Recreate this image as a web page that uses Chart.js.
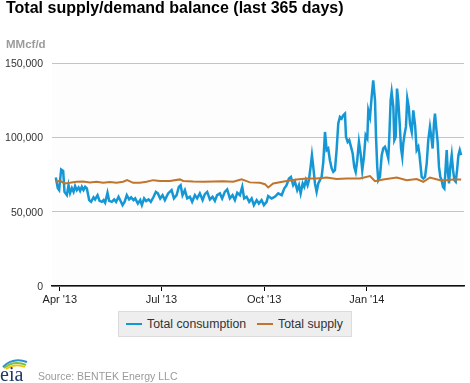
<!DOCTYPE html>
<html><head><meta charset="utf-8">
<script src="https://cdn.jsdelivr.net/npm/chart.js@4"></script>
<style>
html,body{margin:0;padding:0;background:#fff;width:470px;height:383px;overflow:hidden;font-family:"Liberation Sans",Arial,sans-serif}
#wrap{position:relative;width:470px;height:383px}
#c{position:absolute;left:0;top:0}
.abs{position:absolute;white-space:nowrap}
#title{left:6px;top:0px;font-weight:bold;font-size:16px;line-height:16px;color:#000}
#unit{left:6px;top:38px;font-weight:bold;font-size:11.5px;line-height:12px;color:#9b9b9b}
#legend{left:118px;top:311px;width:234px;height:26px;box-sizing:border-box;background:#eeeeee;border:1px solid #dcdcdc}
.sw{position:absolute;height:2px}
.lt{position:absolute;font-size:12.3px;line-height:14px;color:#333}
#source{left:38px;top:370px;font-size:10.5px;line-height:12px;color:#9a9a9a}
#logo{left:0;top:356px}
</style>
</head><body>
<div id="wrap">
<canvas id="c" width="470" height="383"></canvas>
<div id="title" class="abs">Total supply/demand balance (last 365 days)</div>
<div id="unit" class="abs">MMcf/d</div>
<div id="legend" class="abs"></div>
<div id="source" class="abs">Source: BENTEK Energy LLC</div>
<svg id="logo" class="abs" width="34" height="27" viewBox="0 0 34 27">
<path d="M3 11 Q13 1 27 6" stroke="#2b8fd0" stroke-width="2" fill="none"/>
<path d="M4 12 Q14 4 26 9" stroke="#7cc242" stroke-width="2" fill="none"/>
<path d="M6 13 Q15 7 25 11" stroke="#f2c500" stroke-width="1.6" fill="none"/>
<text x="0" y="25" font-family="Liberation Serif, DejaVu Serif, serif" font-size="20" fill="#1d3a66">eia</text>
</svg>
</div>
<script>
// ---- data (days counted from 1 Apr 2013) ----
const seriesNames = ['Total consumption', 'Total supply'];
const tickDays = [0, 91, 183, 275];
const tickLabels = ["Apr '13", "Jul '13", "Oct '13", "Jan '14"];
const yTickValues = [0, 50000, 100000, 150000];

const consumptionDays = [-3.6,-1.8,-0.6,1.2,3.0,4.2,6.3,7.8,9.2,10.8,12.3,13.7,15.2,16.8,18.2,19.7,21.2,22.7,24.2,26.3,28.0,30.2,31.6,33.8,35.6,37.6,39.2,40.6,42.7,44.2,46.6,48.7,50.4,52.6,54.0,56.2,58.0,60.0,62.1,63.9,66.0,67.5,69.9,72.0,73.5,75.5,77.3,79.5,81.5,84.0,86.0,87.8,89.9,
92.0,94.1,97.0,100.1,102.2,104.6,106.6,108.2,109.9,112.0,114.1,116.5,118.5,121.0,123.0,125.4,127.9,129.9,132.0,134.4,136.8,138.9,140.9,143.4,145.4,147.8,149.9,152.3,154.7,156.8,158.9,161.3,163.4,165.1,167.3,169.6,171.8,173.8,176.3,178.3,180.7,182.8,185.2,
186.6,189.7,192.6,195.6,198.7,201.0,203.1,205.2,207.0,209.0,210.6,212.6,214.2,215.7,217.5,218.9,220.4,221.9,223.1,224.6,225.8,227.0,228.5,230.0,231.5,233.0,234.5,236.0,237.5,239.0,240.4,241.9,243.5,244.9,246.4,247.9,249.4,250.9,252.4,253.9,255.4,256.3,257.8,259.2,260.8,262.3,263.7,265.0,266.4,267.9,269.4,270.9,272.4,273.9,275.4,
276.3,277.8,279.3,280.7,282.3,283.2,284.3,285.2,286.7,288.3,289.7,291.2,292.7,294.2,295.1,296.3,297.2,298.7,299.6,300.8,302.0,303.1,304.4,305.6,306.7,307.6,308.9,310.0,311.2,312.5,313.6,315.2,316.6,318.2,319.6,321.1,322.0,323.2,324.1,325.6,327.1,328.6,330.0,331.5,332.7,333.9,335.1,336.0,337.2,338.4,339.6,340.8,342.0,343.2,344.4,345.6,346.5,347.4,348.6,349.7,351.0,352.2,353.4,354.6,355.8,357.0,358.2,359.4];
const consumptionValues = [73000,65800,64500,78400,77400,63300,61100,67800,62500,65800,63300,67200,64500,66300,64000,66700,64500,66700,65600,57800,56600,59600,58200,61100,57300,56600,57800,56000,62700,57300,56600,58200,56600,60000,57800,54400,56600,61100,58200,59600,57800,58900,55500,57800,54400,58900,57100,58200,56600,60000,63300,62300,58900,
61100,57800,62300,64500,58900,61100,66700,67800,61100,64500,58900,60000,56600,61100,58900,62300,57800,61800,63300,58200,60000,57300,61100,62300,58900,63300,65000,58900,61100,57800,62700,61100,66700,58900,60000,56600,58900,54400,57800,55500,57800,54400,56600,
60500,58900,60000,62300,61100,65600,67800,72300,73400,67800,70100,64500,67800,62300,69000,66700,71200,67800,71200,80100,88000,80100,69000,63300,69000,71200,73400,83500,103600,91400,92500,84600,79100,76800,77900,91400,109300,113700,112600,114900,116000,100300,96900,98100,93600,89100,80100,76800,84600,96900,89100,77900,86900,101400,99200,
118200,113700,127200,138400,124900,100300,80100,71200,73400,88000,92500,93600,90200,85800,100300,124900,130500,120400,98100,100300,132800,124900,109300,92500,86900,95800,102600,107000,126100,120400,109300,103600,118200,108100,91400,93600,89100,80100,73400,72300,73400,82400,98100,107000,100300,92500,109300,116000,105900,96900,80100,73400,71200,66700,65600,80100,91400,77900,69000,80100,88000,77900,71200,70100,77900,88000,91400,88000];

const supplyDays = [-3.6,0,4.5,9.0,15.0,20.9,26.9,32.9,38.8,44.8,50.8,56.7,60.3,65.7,71.7,77.7,83.6,89.6,98.6,107.5,110.5,119.4,128.4,137.4,146.3,155.3,162.8,170.3,179.2,183.7,186.6,191.1,203.1,212.1,221.1,230.0,239.0,247.9,256.9,268.8,277.8,282.3,289.7,301.7,310.7,319.6,325.6,331.5,340.5,346.5,352.4,358.4,359.4];
const supplyValues = [70100,70700,69000,69400,70100,70300,69700,70100,69400,69900,69400,70100,71200,69400,69400,70100,71200,70700,70700,71700,70700,70300,70100,70300,70500,70100,71700,69700,69400,68500,66300,69000,70700,71700,72300,72300,73000,71900,72300,72300,73900,70500,71700,73000,71200,71900,70100,73000,71200,71200,71700,71700,71500];

const seriesColors = ['#1597d5', '#c1742c'];

// ---- legend ----
(function(){
  const lg = document.getElementById('legend');
  const items = [{sw:7, tx:28}, {sw:138, tx:159}];
  seriesNames.forEach((n, i) => {
    const s = document.createElement('div');
    s.className = 'sw'; s.style.left = items[i].sw + 'px'; s.style.top = '11px';
    s.style.width = '16px'; s.style.background = seriesColors[i];
    lg.appendChild(s);
    const t = document.createElement('div');
    t.className = 'lt'; t.style.left = items[i].tx + 'px'; t.style.top = '5px';
    t.textContent = n; lg.appendChild(t);
  });
})();

const pairs = (xs, ys) => xs.slice(0, Math.min(xs.length, ys.length)).map((x, i) => ({x: x, y: ys[i]}));

const bgPlugin = {
  id: 'plotBg',
  beforeDraw(chart) {
    const a = chart.chartArea, ctx = chart.ctx;
    ctx.save(); ctx.fillStyle = '#fdfdfd';
    ctx.fillRect(a.left, a.top, a.right - a.left, a.bottom - a.top);
    ctx.restore();
  }
};

const FONT = '"Liberation Sans", Arial, sans-serif';
new Chart(document.getElementById('c'), {
  type: 'line',
  data: {
    datasets: [
      {label: seriesNames[0], data: pairs(consumptionDays, consumptionValues), borderColor: seriesColors[0], borderWidth: 2.5, pointRadius: 0, tension: 0, fill: false, order: 1},
      {label: seriesNames[1], data: pairs(supplyDays, supplyValues), borderColor: seriesColors[1], borderWidth: 2, pointRadius: 0, tension: 0, fill: false, order: 0}
    ]
  },
  options: {
    responsive: false, animation: false, devicePixelRatio: 1,
    layout: {padding: {top: 63, right: 6, left: 0, bottom: 0}},
    plugins: {legend: {display: false}, tooltip: {enabled: false}, title: {display: false}},
    scales: {
      x: {
        type: 'linear', min: -7, max: 362,
        afterBuildTicks: s => { s.ticks = tickDays.map(v => ({value: v})); },
        afterFit: s => { s.height = 97; },
        ticks: {callback: v => tickLabels[tickDays.indexOf(v)], padding: 2, maxRotation: 0, autoSkip: false, color: '#222', font: {size: 11, family: FONT}},
        grid: {drawOnChartArea: false, drawTicks: true, tickLength: 5, color: '#000', lineWidth: 1},
        border: {display: true, color: '#111', width: 1.5}
      },
      y: {
        min: 0, max: 150000,
        afterBuildTicks: s => { s.ticks = yTickValues.map(v => ({value: v})); },
        afterFit: s => { s.width = 52; },
        ticks: {callback: v => v.toLocaleString('en-US'), padding: 9, labelOffset: 1, color: '#333', font: {size: 10.5, family: FONT}},
        grid: {color: '#c4c4c4', drawTicks: false, lineWidth: 1},
        border: {display: false}
      }
    }
  },
  plugins: [bgPlugin]
});
</script>
</body></html>
